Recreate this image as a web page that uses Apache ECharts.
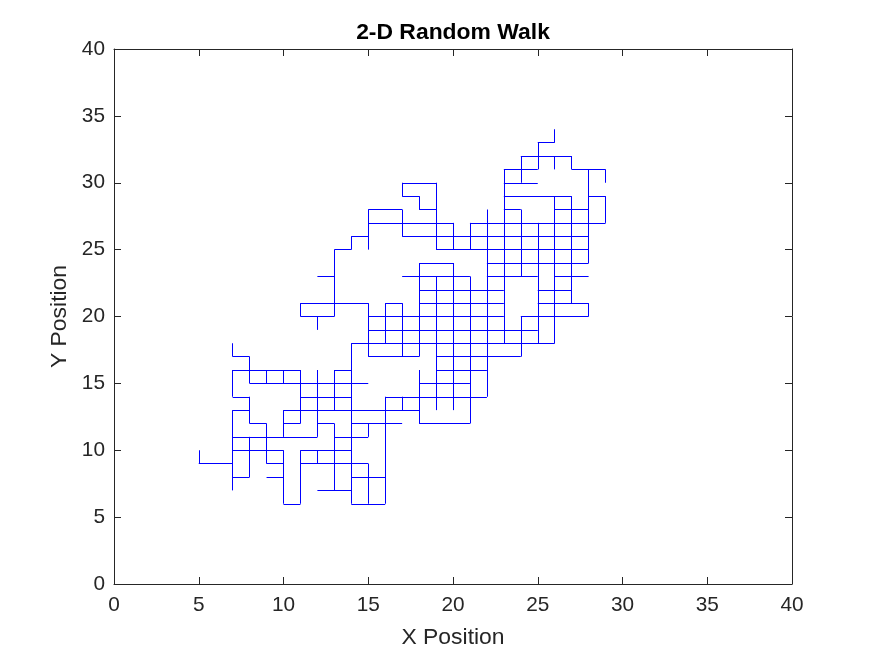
<!DOCTYPE html>
<html>
<head>
<meta charset="utf-8">
<script src="https://cdn.jsdelivr.net/npm/echarts@6/dist/echarts.min.js"></script>
<style>
html,body{margin:0;padding:0;background:#fff;}
#chart{width:875px;height:656px;}
</style>
</head>
<body>
<div id="chart"></div>
<script>
// Tick labels
const xTicks = [0, 5, 10, 15, 20, 25, 30, 35, 40];
const yTicks = [0, 5, 10, 15, 20, 25, 30, 35, 40];

// Horizontal steps of the walk: [y, xStart, xEnd]
const horizontalSegments = [
  [33, 25, 26],
  [32, 24, 27],
  [31, 23, 25], [31, 27, 29],
  [30, 17, 19], [30, 23, 25],
  [29, 17, 18], [29, 23, 27], [29, 28, 29],
  [28, 15, 17], [28, 18, 19], [28, 23, 24], [28, 26, 28],
  [27, 15, 20], [27, 21, 29],
  [26, 14, 15], [26, 17, 28],
  [25, 13, 14], [25, 19, 28],
  [24, 18, 20], [24, 22, 28],
  [23, 12, 13], [23, 17, 21], [23, 22, 25], [23, 26, 28],
  [22, 18, 23], [22, 25, 27],
  [21, 11, 15], [21, 16, 17], [21, 18, 23], [21, 25, 28],
  [20, 11, 13], [20, 15, 23], [20, 24, 28],
  [19, 15, 25],
  [18, 14, 26],
  [17, 7, 8], [17, 15, 18], [17, 19, 24],
  [16, 7, 11], [16, 13, 14], [16, 19, 22],
  [15, 8, 15], [15, 18, 21],
  [14, 7, 8], [14, 11, 14], [14, 16, 22],
  [13, 7, 8], [13, 10, 18],
  [12, 8, 9], [12, 10, 11], [12, 12, 13], [12, 14, 17], [12, 18, 21],
  [11, 7, 12], [11, 13, 15],
  [10, 7, 10], [10, 11, 14],
  [9, 5, 7], [9, 9, 10], [9, 11, 15],
  [8, 7, 8], [8, 9, 10], [8, 14, 16],
  [7, 12, 14],
  [6, 10, 11], [6, 14, 16]
];

// Vertical steps of the walk: [x, yStart, yEnd]
const verticalSegments = [
  [5, 9, 10],
  [7, 17, 18], [7, 14, 16], [7, 7, 13],
  [8, 15, 17], [8, 12, 14], [8, 8, 11],
  [9, 15, 16], [9, 9, 12],
  [10, 15, 16], [10, 11, 13], [10, 6, 10],
  [11, 20, 21], [11, 12, 16], [11, 6, 10],
  [12, 19, 20], [12, 11, 16], [12, 9, 10],
  [13, 20, 25], [13, 13, 16], [13, 7, 12],
  [14, 25, 26], [14, 15, 18], [14, 6, 15],
  [15, 25, 28], [15, 17, 21], [15, 11, 12], [15, 6, 9],
  [16, 18, 21], [16, 6, 14],
  [17, 29, 30], [17, 26, 28], [17, 17, 21], [17, 13, 14],
  [18, 28, 29], [18, 17, 24], [18, 12, 16],
  [19, 25, 30], [19, 13, 23],
  [20, 25, 27], [20, 13, 24],
  [21, 25, 27], [21, 12, 23],
  [22, 14, 28],
  [23, 18, 31],
  [24, 30, 32], [24, 23, 28], [24, 17, 20],
  [25, 31, 33], [25, 18, 27],
  [26, 33, 34], [26, 31, 32], [26, 18, 29],
  [27, 31, 32], [27, 21, 29],
  [28, 24, 31], [28, 20, 21],
  [29, 30, 31], [29, 27, 29]
];

const segData = [];
horizontalSegments.forEach(function (s) {
  segData.push({ coords: [[s[1], s[0]], [s[2], s[0]]] });
});
verticalSegments.forEach(function (s) {
  segData.push({ coords: [[s[0], s[1]], [s[0], s[2]]] });
});

const axisColor = '#262626';
const font = "'Liberation Sans', Arial, Helvetica, sans-serif";

function makeX(show) {
  return {
    type: 'value', min: xTicks[0], max: xTicks[xTicks.length - 1], interval: 5,
    position: show ? 'bottom' : 'top',
    name: show ? 'X Position' : '', nameLocation: 'middle', nameGap: 42,
    nameTextStyle: { fontSize: 22.9, color: axisColor, fontFamily: font },
    axisLine: { show: true, onZero: false, lineStyle: { color: axisColor, width: 1 } },
    axisTick: { show: true, inside: true, length: 7, lineStyle: { color: axisColor } },
    axisLabel: { show: show, fontSize: 20.8, color: axisColor, fontFamily: font, margin: 11 },
    splitLine: { show: false }
  };
}
function makeY(show) {
  return {
    type: 'value', min: yTicks[0], max: yTicks[yTicks.length - 1], interval: 5,
    position: show ? 'left' : 'right',
    name: show ? 'Y Position' : '', nameLocation: 'middle', nameGap: 39,
    nameTextStyle: { fontSize: 22.9, color: axisColor, fontFamily: font },
    axisLine: { show: true, onZero: false, lineStyle: { color: axisColor, width: 1 } },
    axisTick: { show: true, inside: true, length: 7, lineStyle: { color: axisColor } },
    axisLabel: { show: show, fontSize: 20.8, color: axisColor, fontFamily: font, margin: 9 },
    splitLine: { show: false }
  };
}

const chart = echarts.init(document.getElementById('chart'), null, { renderer: 'canvas' });
chart.setOption({
  animation: false,
  backgroundColor: '#ffffff',
  title: {
    text: '2-D Random Walk',
    left: 453, top: 21, textAlign: 'center', padding: 0,
    textStyle: { fontSize: 22.9, fontWeight: 'bold', color: '#000000', fontFamily: font }
  },
  grid: { left: 114, right: 83, top: 49, bottom: 72, containLabel: false },
  xAxis: [makeX(true), makeX(false)],
  yAxis: [makeY(true), makeY(false)],
  series: [{
    type: 'lines',
    coordinateSystem: 'cartesian2d',
    xAxisIndex: 0, yAxisIndex: 0,
    polyline: false,
    silent: true,
    lineStyle: { color: '#0000ff', width: 1, opacity: 1 },
    data: segData
  }]
});
</script>
</body>
</html>
